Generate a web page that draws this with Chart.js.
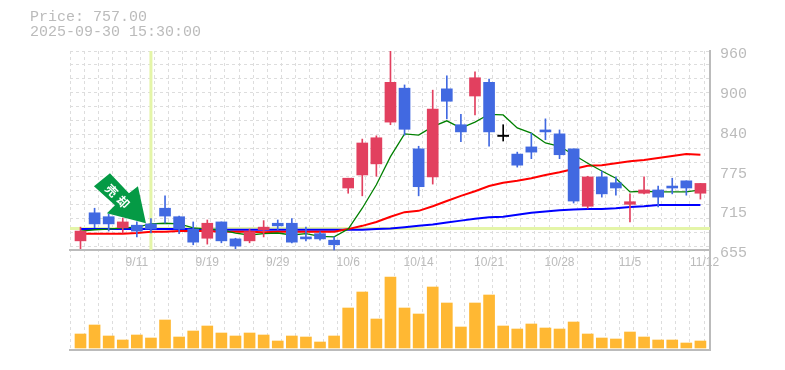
<!DOCTYPE html>
<html><head><meta charset="utf-8">
<style>html,body{margin:0;padding:0;background:#fff}#w{width:785px;height:370px}</style>
<script src="https://cdn.jsdelivr.net/npm/chart.js@4"></script></head>
<body><div id="w"><canvas id="c" width="785" height="370"></canvas></div>
<script>
const dates=['9/5','9/8','9/9','9/10','9/11','9/12','9/16','9/17','9/18','9/19','9/22','9/24','9/25','9/26','9/29','9/30','10/1','10/2','10/3','10/6','10/7','10/8','10/9','10/10','10/14','10/15','10/16','10/17','10/20','10/21','10/22','10/23','10/24','10/27','10/28','10/29','10/30','10/31','11/4','11/5','11/6','11/7','11/10','11/11','11/12'];
const opens=[669,712,706,689,693,695,719,706,687,673,698,672,669,686,696,696,675,680,670,750,770,787,851,903,810,767,902,847,891,912,830,802,813,839,833,810,722,767,758,725,742,747,753,761,742];
const closes=[684,695,695,698,684,687,707,687,667,696,669,661,683,690,692,667,672,672,663,765,819,827,912,840,752,871,883,836,919,836,830,785,805,836,801,730,767,741,750,729,747,736,750,750,757];
const highs=[690,719,712,704,698,703,738,707,698,701,698,673,687,700,701,703,690,683,675,765,825,830,960,908,814,900,922,863,928,917,847,805,834,856,839,810,768,776,767,741,767,753,765,761,757];
const lows=[657,689,684,681,675,681,696,680,663,664,666,657,666,675,686,666,669,670,655,742,738,768,847,831,738,756,856,821,862,814,822,782,795,824,795,727,719,736,739,698,741,721,741,739,733];
const maShort=[684,686,687,689,690,695,696,695,689,687,686,681,678,680,681,678,680,676,675,687,719,755,798,833,831,844,853,842,851,863,862,842,834,819,814,801,788,776,765,744,745,744,744,744,747];
const maMid=[680,680,680,680,681,683,683,684,684,684,683,683,683,682,683,683,683,683,683,687,692,698,706,713,715,722,730,738,745,753,758,761,765,770,774,779,784,785,788,791,793,796,799,802,801];
const maLong=[687,687,687,687,687,687,687,687,687,686,686,686,686,686,686,686,686,686,686,686,686,687,688,690,692,694,697,700,703,705,706,709,712,714,716,717,718,718,719,721,722,724,724,724,724];
const volumes=[14,23,12,8,13,10,28,11,17,22,15,12,15,13,7,12,11,6,12,40,56,29,71,40,34,61,45,21,45,53,22,19,24,20,19,26,14,10,9,16,11,8,8,5,7];
const xTickIndex=[4,9,14,19,24,29,34,39,44.3];
const xTickLabels=['9/11','9/19','9/29','10/6','10/14','10/21','10/28','11/5','11/12'];
const yTickValues=[955,894,833,772,711,650];
const yTickLabels=['960','900','840','775','715','655'];
const infoLines=['Price: 757.00','2025-09-30 15:30:00'];
const crossIndex=5, crossPrice=688;
const signalLabel='売却';

const UP='#e2405f',DOWN='#4169e1',DOJI='#000000',GRID='#dddddd',AXIS='#bbbbbb',TXT='#bbbbbb',CROSS='#e4f5a8';
const XMIN=-0.745,XMAX=44.68,PMIN=501.7,PMAX=960;
const colorOf=i=>closes[i]>opens[i]?UP:closes[i]<opens[i]?DOWN:DOJI;
const idx=dates.map((_,i)=>i);
const body=idx.map(i=>({x:i,y:opens[i]===closes[i]?[opens[i]-1,opens[i]+1]:[opens[i],closes[i]]}));
const wick=idx.map(i=>({x:i,y:[lows[i],highs[i]]}));
const line=a=>a.map((v,i)=>({x:i,y:v}));

const arrow={id:'arrow',afterDatasetsDraw(ch){
  const c=ch.ctx,X=ch.scales.x.getPixelForValue(crossIndex),Y=ch.scales.y.getPixelForValue(696);
  const pts=[[-41,-50],[-57,-37],[-36,-18],[-44,-10],[-5,0],[-13,-37],[-22,-30]];
  c.save();c.translate(X,Y);
  c.beginPath();pts.forEach((p,i)=>i?c.lineTo(p[0],p[1]):c.moveTo(p[0],p[1]));c.closePath();
  c.save();c.translate(0,1.5);c.fillStyle='#ffffff';c.fill();c.restore();
  c.fillStyle='#059a45';c.fill();
  c.translate(-33.5,-27);c.rotate(Math.PI/4);
  c.fillStyle='#ffffff';c.font='bold 12px "Noto Sans CJK JP"';c.letterSpacing='4px';c.textAlign='center';c.textBaseline='middle';
  c.fillText(signalLabel,2,0);c.restore();
}};

new Chart(document.getElementById('c'),{
  type:'bar',
  plugins:[arrow],
  data:{datasets:[
    {type:'bar',data:wick,xAxisID:'x',yAxisID:'y',grouped:false,barThickness:1,backgroundColor:idx.map(colorOf),order:2},
    {type:'bar',data:body,xAxisID:'x',yAxisID:'y',grouped:false,barThickness:11,backgroundColor:idx.map(colorOf),order:1},
    {type:'bar',data:line(volumes),xAxisID:'x',yAxisID:'yv',grouped:false,barThickness:11,backgroundColor:'#ffb833',order:8},
    {type:'line',data:line(maShort),xAxisID:'x',yAxisID:'y',borderColor:'#008000',borderWidth:1.3,pointRadius:0,order:3},
    {type:'line',data:line(maMid),xAxisID:'x',yAxisID:'y',borderColor:'#ff0000',borderWidth:2,pointRadius:0,order:4},
    {type:'line',data:line(maLong),xAxisID:'x',yAxisID:'y',borderColor:'#0000ff',borderWidth:2,pointRadius:0,order:5},
    {type:'line',data:[{x:XMIN,y:crossPrice},{x:XMAX,y:crossPrice}],xAxisID:'x',yAxisID:'y',borderColor:CROSS,borderWidth:3,pointRadius:0,order:6},
    {type:'line',data:[{x:crossIndex,y:655},{x:crossIndex,y:PMAX}],xAxisID:'x',yAxisID:'y',borderColor:CROSS,borderWidth:3,pointRadius:0,order:7}
  ]},
  options:{
    responsive:false,animation:false,
    layout:{padding:{left:30,right:0,top:0,bottom:20}},
    plugins:{legend:{display:false},tooltip:{enabled:false},
      title:{display:true,text:infoLines,align:'start',color:TXT,font:{family:'"Liberation Mono",monospace',size:15,weight:'normal',lineHeight:1},padding:{top:10,bottom:11}}},
    scales:{
      x:{type:'linear',offset:false,position:{y:655},min:XMIN,max:XMAX,
        afterBuildTicks(s){s.ticks=xTickIndex.map(v=>({value:v}));},
        grid:{display:false,drawTicks:false,offset:false},border:{display:true,color:AXIS,width:2},
        ticks:{autoSkip:false,maxRotation:0,padding:6,color:TXT,font:{family:'"Liberation Sans"',size:12},callback:(v,i)=>xTickLabels[i]}},
      xg:{type:'linear',offset:false,position:'bottom',min:XMIN,max:XMAX,
        afterBuildTicks(s){const t=[];for(let k=0;k<=45;k++)t.push({value:XMIN+k});s.ticks=t;},
        afterFit(s){s.height=0;},
        grid:{color:GRID,lineWidth:1,drawTicks:false,offset:false},border:{display:true,color:AXIS,width:2,dash:[3,3]},
        ticks:{display:false}},
      y:{type:'linear',position:'right',min:PMIN,max:PMAX,
        afterBuildTicks(s){s.ticks=yTickValues.map(v=>({value:v}));},
        afterFit(s){s.width=75;},
        grid:{display:false,drawTicks:false},border:{display:true,color:AXIS,width:2},
        ticks:{autoSkip:false,padding:10,color:TXT,font:{family:'"Liberation Mono",monospace',size:15},callback:(v,i)=>yTickLabels[i]}},
      yg:{type:'linear',position:'left',min:PMIN,max:PMAX,
        afterBuildTicks(s){const t=[];for(let k=0;k<=14;k++)t.push({value:PMAX-21.458*k});s.ticks=t;},
        afterFit(s){s.width=40;},
        grid:{color:GRID,lineWidth:1,drawTicks:false},border:{display:false,dash:[3,3]},
        ticks:{display:false}},
      yv:{type:'linear',display:false,min:-2,max:297}
    }
  }
});
</script></body></html>
